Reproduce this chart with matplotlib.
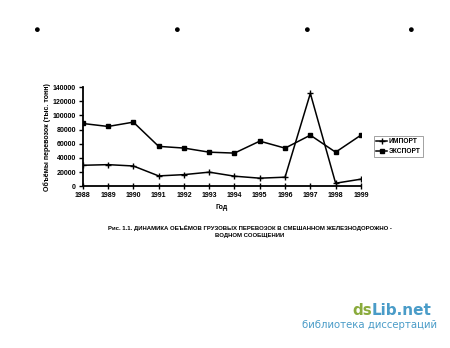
import matplotlib
matplotlib.use('Agg')
from matplotlib import pyplot as plt

years = [1988, 1989, 1990, 1991, 1992, 1993, 1994, 1995, 1996, 1997, 1998, 1999]
imports = [29500, 30400, 28500, 14500, 16300, 19800, 14100, 11300, 12700, 131000, 4200, 9900]
exports = [88500, 84300, 90400, 56200, 53800, 48000, 46700, 63600, 53700, 72000, 48000, 72000]
yticks = [0, 20000, 40000, 60000, 80000, 100000, 120000, 140000]

plt.rcParams['font.family'] = ['Liberation Sans', 'DejaVu Sans']
plt.rcParams['font.weight'] = 'bold'

fig = plt.figure(figsize=(4.5, 3.48), dpi=100)
ax = fig.add_axes([0.184, 0.465, 0.618, 0.285])

ax.plot(years, imports, color='black', lw=1.1, marker='+', ms=4, mew=1.0, label='ИМПОРТ')
ax.plot(years, exports, color='black', lw=1.1, marker='s', ms=3, label='ЭКСПОРТ')

ax.set_xlim(1988, 1999)
ax.set_ylim(0, 140000)
ax.set_xticks(years)
ax.set_yticks(yticks)
ax.tick_params(axis='both', labelsize=5, width=1, length=3, pad=2)
ax.tick_params(axis='x', direction='inout', length=4)
for lab in ax.get_xticklabels() + ax.get_yticklabels():
    lab.set_fontweight('bold')
for s in ['top', 'right']:
    ax.spines[s].set_visible(False)
for s in ['left', 'bottom']:
    ax.spines[s].set_linewidth(1.3)

ax.set_xlabel('Год', fontsize=5, fontweight='bold', labelpad=4)
ax.set_ylabel('Объёмы перевозок (тыс. тонн)', fontsize=5, fontweight='bold', labelpad=1)

leg = ax.legend(loc='center left', bbox_to_anchor=(1.035, 0.40), fontsize=4.8, frameon=True,
                fancybox=False, edgecolor='#777777', handlelength=1.6, borderpad=0.35,
                labelspacing=0.45, handletextpad=0.3)
leg.get_frame().set_linewidth(0.6)
for t in leg.get_texts():
    t.set_fontweight('bold')

fig.text(0.555, 0.345, 'Рис. 1.1. ДИНАМИКА ОБЪЁМОВ ГРУЗОВЫХ ПЕРЕВОЗОК В СМЕШАННОМ ЖЕЛЕЗНОДОРОЖНО -',
         fontsize=4.3, fontweight='bold', ha='center', va='center')
fig.text(0.555, 0.324, 'ВОДНОМ СООБЩЕНИИ', fontsize=4.3, fontweight='bold', ha='center', va='center')

# scan specks along the top
for x in [0.08, 0.393, 0.682, 0.911]:
    fig.text(x, 0.913, '●', fontsize=8, ha='center', va='center', color='black')

# watermark
fig.text(0.782, 0.107, 'ds', fontsize=11, color='#8aab3c', ha='left', va='center', fontweight='bold',
         family='DejaVu Sans')
fig.text(0.826, 0.107, 'Lib.net', fontsize=11, color='#4a9cc8', ha='left', va='center', fontweight='bold',
         family='DejaVu Sans')
fig.text(0.971, 0.066, 'библиотека диссертаций', fontsize=7.3, color='#4a9cc8', ha='right', va='center',
         fontweight='normal', family='DejaVu Sans')

fig.savefig('out.png', dpi=100)
